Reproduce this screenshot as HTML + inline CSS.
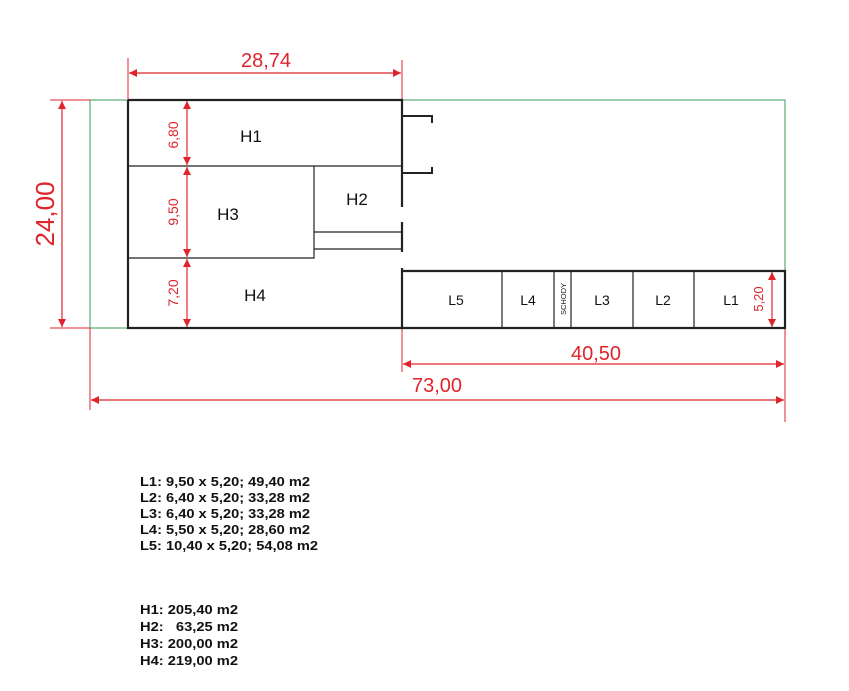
<!DOCTYPE html>
<html><head><style>body{margin:0;background:#fff}svg{display:block}text{white-space:pre}</style></head><body>
<svg width="849" height="691" viewBox="0 0 849 691" xmlns="http://www.w3.org/2000/svg" font-family="Liberation Sans, Arial, sans-serif">
<defs>
<marker id="a" viewBox="0 0 10 10" refX="10" refY="5" markerWidth="12" markerHeight="8" orient="auto-start-reverse" markerUnits="userSpaceOnUse"><path d="M0,0L10,5L0,10z" fill="#e0242b"/></marker>
</defs>
<g stroke="#3a9a5a" stroke-width="1" fill="none">
<path d="M90,100H785V271"/>
<path d="M90,100V328H128"/>
</g>
<g stroke="#e0242b" stroke-width="1" fill="none">
<path d="M128,58V100M402,60V100"/>
<path d="M50,100H90M50,328H90"/>
<path d="M90,328V410M402,328V372M785,328V422"/>
</g>
<g stroke="#e0242b" stroke-width="1.2" fill="none">
<line x1="129" y1="73" x2="401" y2="73" marker-start="url(#a)" marker-end="url(#a)"/>
<line x1="62" y1="101" x2="62" y2="327" marker-start="url(#a)" marker-end="url(#a)"/>
<line x1="403" y1="364" x2="784" y2="364" marker-start="url(#a)" marker-end="url(#a)"/>
<line x1="91" y1="400" x2="784" y2="400" marker-start="url(#a)" marker-end="url(#a)"/>
<line x1="187" y1="101" x2="187" y2="165" marker-start="url(#a)" marker-end="url(#a)"/>
<line x1="187" y1="167" x2="187" y2="257" marker-start="url(#a)" marker-end="url(#a)"/>
<line x1="187" y1="259" x2="187" y2="327" marker-start="url(#a)" marker-end="url(#a)"/>
<line x1="772" y1="272" x2="772" y2="327" marker-start="url(#a)" marker-end="url(#a)"/>
</g>
<g stroke="#222" fill="none">
<path d="M128,100H402V207M402,222V252M402,268V328H128V100" stroke-width="2.2"/>
<path d="M402,116H432V123M402,173H432V167" stroke-width="2"/>
<path d="M128,166H402M128,258H314V249H402M314,166V249M314,232H402" stroke-width="1.2"/>
<path d="M402,271H785V328H402" stroke-width="2.2"/>
<path d="M502,271V328M554,271V328M571,271V328M633,271V328M694,271V328" stroke-width="1.2"/>
</g>
<g fill="#e0242b" text-anchor="middle">
<text x="266" y="67" font-size="20">28,74</text>
<text x="596" y="360" font-size="20">40,50</text>
<text x="437" y="392" font-size="20">73,00</text>
<text transform="translate(54,214) rotate(-90)" font-size="26">24,00</text>
<text transform="translate(178,135) rotate(-90)" font-size="14">6,80</text>
<text transform="translate(178,212) rotate(-90)" font-size="14">9,50</text>
<text transform="translate(178,293) rotate(-90)" font-size="14">7,20</text>
<text transform="translate(763,299) rotate(-90)" font-size="13">5,20</text>
</g>
<g fill="#111" text-anchor="middle">
<text x="251" y="142" font-size="17">H1</text>
<text x="357" y="205" font-size="17">H2</text>
<text x="228" y="220" font-size="17">H3</text>
<text x="255" y="301" font-size="17">H4</text>
<text x="456" y="305" font-size="14">L5</text>
<text x="528" y="305" font-size="14">L4</text>
<text x="602" y="305" font-size="14">L3</text>
<text x="663" y="305" font-size="14">L2</text>
<text x="731" y="305" font-size="14">L1</text>
<text transform="translate(566,299) rotate(-90)" font-size="7.5">SCHODY</text>
</g>
<g fill="#111" font-size="13" font-weight="bold">
<text x="140" y="486" textLength="170" lengthAdjust="spacingAndGlyphs">L1: 9,50 x 5,20; 49,40 m2</text>
<text x="140" y="502" textLength="170" lengthAdjust="spacingAndGlyphs">L2: 6,40 x 5,20; 33,28 m2</text>
<text x="140" y="518" textLength="170" lengthAdjust="spacingAndGlyphs">L3: 6,40 x 5,20; 33,28 m2</text>
<text x="140" y="534" textLength="170" lengthAdjust="spacingAndGlyphs">L4: 5,50 x 5,20; 28,60 m2</text>
<text x="140" y="550" textLength="178" lengthAdjust="spacingAndGlyphs">L5: 10,40 x 5,20; 54,08 m2</text>
<text x="140" y="614" textLength="98" lengthAdjust="spacingAndGlyphs">H1: 205,40 m2</text>
<text x="140" y="631" textLength="98" lengthAdjust="spacingAndGlyphs">H2:   63,25 m2</text>
<text x="140" y="648" textLength="98" lengthAdjust="spacingAndGlyphs">H3: 200,00 m2</text>
<text x="140" y="665" textLength="98" lengthAdjust="spacingAndGlyphs">H4: 219,00 m2</text>
</g>
</svg>
</body></html>
